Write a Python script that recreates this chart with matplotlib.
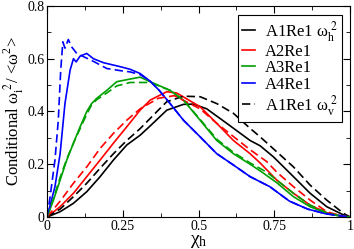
import matplotlib
matplotlib.use("Agg")
import matplotlib.pyplot as plt
from matplotlib.ticker import MultipleLocator

plt.rcParams['font.family'] = ['Liberation Serif', 'DejaVu Serif']
plt.rcParams['mathtext.fontset'] = 'stix'

# A1Re1 (black)
x_a1_h = [0, 0.043, 0.087, 0.131, 0.175, 0.219, 0.263, 0.307, 0.34, 0.395, 0.45, 0.483, 0.527, 0.593, 0.67, 0.703, 0.747, 0.813, 0.868, 0.923, 0.978, 1.0]
y_a1_h = [0, 0.02, 0.052, 0.096, 0.153, 0.216, 0.273, 0.31, 0.345, 0.405, 0.427, 0.428, 0.41, 0.355, 0.29, 0.27, 0.228, 0.153, 0.09, 0.039, 0.008, 0]
x_a1_v = [0, 0.043, 0.087, 0.131, 0.175, 0.219, 0.263, 0.307, 0.367, 0.395, 0.45, 0.505, 0.56, 0.615, 0.67, 0.703, 0.758, 0.813, 0.868, 0.923, 0.978, 1.0]
y_a1_v = [0, 0.03, 0.077, 0.128, 0.185, 0.24, 0.29, 0.335, 0.405, 0.437, 0.458, 0.456, 0.43, 0.393, 0.336, 0.304, 0.247, 0.19, 0.121, 0.064, 0.014, 0]

# A2Re1 (red)
x_a2_h = [0, 0.043, 0.087, 0.131, 0.175, 0.219, 0.263, 0.307, 0.34, 0.395, 0.428, 0.505, 0.56, 0.615, 0.67, 0.703, 0.758, 0.813, 0.868, 0.923, 0.97, 1.0]
y_a2_h = [0, 0.039, 0.09, 0.153, 0.216, 0.28, 0.342, 0.405, 0.443, 0.475, 0.47, 0.418, 0.355, 0.29, 0.24, 0.205, 0.14, 0.09, 0.045, 0.016, 0.004, 0]
x_a2_v = [0, 0.043, 0.087, 0.131, 0.175, 0.219, 0.263, 0.307, 0.367, 0.42, 0.505, 0.56, 0.615, 0.67, 0.725, 0.758, 0.813, 0.868, 0.923, 0.97, 1.0]
y_a2_v = [0, 0.06, 0.128, 0.19, 0.26, 0.317, 0.367, 0.41, 0.45, 0.46, 0.41, 0.355, 0.305, 0.255, 0.21, 0.17, 0.115, 0.064, 0.02, 0.005, 0]

# A3Re1 (green)
x_a3_h = [0, 0.021, 0.043, 0.065, 0.087, 0.109, 0.131, 0.147, 0.164, 0.197, 0.23, 0.274, 0.307, 0.34, 0.406, 0.45, 0.505, 0.56, 0.615, 0.67, 0.703, 0.758, 0.813, 0.868, 0.923, 0.97, 1.0]
y_a3_h = [0, 0.064, 0.14, 0.216, 0.28, 0.342, 0.40, 0.43, 0.45, 0.48, 0.513, 0.523, 0.53, 0.513, 0.48, 0.443, 0.367, 0.29, 0.24, 0.2, 0.175, 0.13, 0.077, 0.039, 0.014, 0.003, 0]
x_a3_v = [0, 0.021, 0.043, 0.065, 0.087, 0.109, 0.131, 0.147, 0.164, 0.197, 0.23, 0.274, 0.307, 0.34, 0.406, 0.45, 0.505, 0.56, 0.615, 0.67, 0.725, 0.758, 0.813, 0.868, 0.923, 0.97, 1.0]
y_a3_v = [0, 0.07, 0.15, 0.22, 0.28, 0.335, 0.39, 0.425, 0.445, 0.47, 0.497, 0.51, 0.51, 0.51, 0.48, 0.443, 0.37, 0.295, 0.245, 0.205, 0.17, 0.14, 0.09, 0.045, 0.016, 0.003, 0]

# A4Re1 (blue)
x_a4_h = [0, 0.026, 0.043, 0.059, 0.076, 0.087, 0.096, 0.109, 0.131, 0.153, 0.186, 0.241, 0.274, 0.307, 0.34, 0.37, 0.406, 0.45, 0.505, 0.56, 0.615, 0.67, 0.735, 0.80, 0.86, 0.92, 1.0]
y_a4_h = [0, 0.115, 0.24, 0.43, 0.557, 0.60, 0.588, 0.61, 0.62, 0.60, 0.585, 0.57, 0.56, 0.544, 0.515, 0.48, 0.43, 0.367, 0.304, 0.24, 0.197, 0.153, 0.115, 0.06, 0.03, 0.012, 0]
x_a4_v = [0, 0.01, 0.026, 0.037, 0.045, 0.052, 0.059, 0.07, 0.081, 0.098, 0.153, 0.197, 0.241, 0.274, 0.307, 0.34, 0.37, 0.406, 0.45, 0.505, 0.56, 0.615, 0.67, 0.735, 0.80, 0.86, 0.92, 1.0]
y_a4_v = [0, 0.077, 0.216, 0.367, 0.557, 0.664, 0.64, 0.673, 0.645, 0.62, 0.59, 0.563, 0.555, 0.55, 0.54, 0.515, 0.48, 0.43, 0.367, 0.304, 0.24, 0.197, 0.153, 0.115, 0.06, 0.03, 0.012, 0]

x_ticks = [0, 0.25, 0.5, 0.75, 1]
x_ticklabels = ["0", "0.25", "0.5", "0.75", "1"]
y_ticks = [0, 0.2, 0.4, 0.6, 0.8]
y_ticklabels = ["0", "0.2", "0.4", "0.6", "0.8"]

fig = plt.figure(figsize=(3.54, 2.49), dpi=100)
ax = fig.add_axes([0.133, 0.1285, 0.856, 0.8475])

lw = 1.2
dash = (0, (5, 2.5))
ax.plot(x_a1_h, y_a1_h, color='black', lw=lw, label="A1Re1 ω$_\\mathregular{h}^{\\ 2}$")
ax.plot(x_a2_h, y_a2_h, color='red', lw=lw, label="A2Re1")
ax.plot(x_a3_h, y_a3_h, color='#00a000', lw=lw, label="A3Re1")
ax.plot(x_a4_h, y_a4_h, color='blue', lw=lw, label="A4Re1")
ax.plot(x_a1_v, y_a1_v, color='black', lw=lw, ls=dash, label="A1Re1 ω$_\\mathregular{v}^{\\ 2}$")
ax.plot(x_a2_v, y_a2_v, color='red', lw=lw, ls=dash)
ax.plot(x_a3_v, y_a3_v, color='#00a000', lw=lw, ls=dash)
ax.plot(x_a4_v, y_a4_v, color='blue', lw=lw, ls=dash)

ax.set_xlim(0, 1)
ax.set_ylim(0, 0.8)
ax.set_xticks(x_ticks)
ax.set_xticklabels(x_ticklabels)
ax.set_yticks(y_ticks)
ax.set_yticklabels(y_ticklabels)
ax.xaxis.set_minor_locator(MultipleLocator(0.125))
ax.yaxis.set_minor_locator(MultipleLocator(0.1))
ax.tick_params(which='both', direction='in', top=True, right=True, labelsize=10, pad=2)
ax.tick_params(which='major', length=5)
ax.tick_params(which='minor', length=3)

ax.set_xlabel("χ$_\\mathregular{h}$", fontsize=14, labelpad=0)
ax.set_ylabel("Conditional ω$_\\mathregular{i}^{\\ 2}$/ <ω$^\\mathregular{2}$>", fontsize=12, labelpad=1)

leg = ax.legend(loc='upper right', bbox_to_anchor=(0.985, 0.975), fontsize=12,
                handlelength=0.8, handletextpad=0.6, labelspacing=0.02,
                borderpad=0.25, borderaxespad=0.2, fancybox=False, framealpha=1,
                edgecolor='black')
leg.get_frame().set_linewidth(0.8)

fig.savefig("out.png", dpi=100)
